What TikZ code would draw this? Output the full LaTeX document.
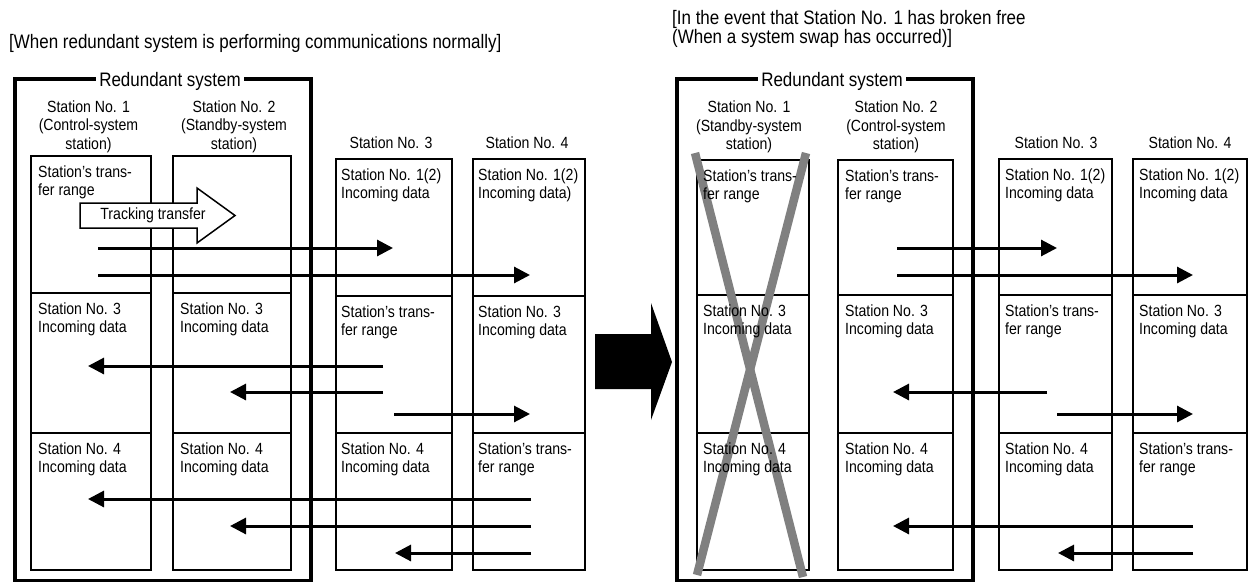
\documentclass[tikz,border=0pt]{standalone}
\usepackage{fontspec}
\setmainfont[FakeStretch=0.87]{Liberation Sans}
\usetikzlibrary{arrows.meta}
\newcommand\stlines[2]{\vtop{\baselineskip=18.5pt\hbox{#1}\hbox{#2}}}
\newcommand\caplines[2]{\vtop{\baselineskip=19pt\hbox{#1}\hbox{#2}}}
\newcommand\ctrline[1]{\hbox to 0pt{\hss#1\hss}}
\newcommand\hdthree[3]{\vtop{\baselineskip=18.5pt\ctrline{#1}\ctrline{#2}\ctrline{#3}}}
\newcommand\stcol[5]{%
  \draw[stbox] (#1,#3) rectangle (#2,570);
  \draw[stbox] (#1,#4) -- (#2,#4);
  \draw[stbox] (#1,#5) -- (#2,#5);}
\tikzset{
  stbox/.style={draw, line width=2pt},
  outerbox/.style={draw, line width=4pt},
  arr/.style={line width=3pt, -{Triangle[length=16pt,width=16pt]}},
  txt/.style={anchor=base west, inner sep=0pt, font=\fontsize{16.2}{18.5}\selectfont},
  captxt/.style={anchor=base west, inner sep=0pt, font=\fontsize{19.5}{19}\selectfont},
  hdr/.style={anchor=base, inner sep=0pt, font=\fontsize{16.2}{18.5}\selectfont},
  ttl/.style={anchor=base, fill=white, inner xsep=3pt, inner ysep=0pt, font=\fontsize{19.5}{22}\selectfont},
  cross/.style={draw=xgray, line width=8.5pt, line cap=butt},
}
\definecolor{xgray}{RGB}{128,128,128}
\begin{document}
\begin{tikzpicture}[x=1pt,y=-1pt]
\useasboundingbox (0,0) rectangle (1249,581);
% captions
\node[captxt] (capL) at (9,48.5) {[When redundant system is performing communications normally]};
\node[captxt] (capR) at (672,24) {\caplines{[In the event that Station No. 1 has broken free}{(When a system swap has occurred)]}};
% ---------- LEFT PANEL ----------
\draw[outerbox] (14.5,79) rectangle (310.5,580.5);
\node[ttl] (ttlL) at (170,86) {Redundant system};
\stcol{31}{151}{156}{293}{433}
\stcol{173}{291}{156}{293}{433}
\stcol{336}{452}{159}{296}{433}
\stcol{473}{585}{159}{296}{433}
\node[hdr] (hL1) at (88.5,112) {\hdthree{Station No. 1}{(Control-system}{station)}};
\node[hdr] (hL2) at (234,112) {\hdthree{Station No. 2}{(Standby-system}{station)}};
\node[hdr] (hL3) at (391,148) {Station No. 3};
\node[hdr] (hL4) at (527,148) {Station No. 4};
\node[txt] (L11) at (38,177) {\stlines{Station’s trans-}{fer range}};
\node[txt] (L13) at (341,180) {\stlines{Station No. 1(2)}{Incoming data}};
\node[txt] (L14) at (478,180) {\stlines{Station No. 1(2)}{Incoming data)}};
\node[txt] (L21) at (38,314) {\stlines{Station No. 3}{Incoming data}};
\node[txt] (L22) at (180,314) {\stlines{Station No. 3}{Incoming data}};
\node[txt] (L23) at (341,317) {\stlines{Station’s trans-}{fer range}};
\node[txt] (L24) at (478,317) {\stlines{Station No. 3}{Incoming data}};
\node[txt] (L31) at (38,454) {\stlines{Station No. 4}{Incoming data}};
\node[txt] (L32) at (180,454) {\stlines{Station No. 4}{Incoming data}};
\node[txt] (L33) at (341,454) {\stlines{Station No. 4}{Incoming data}};
\node[txt] (L34) at (478,454) {\stlines{Station’s trans-}{fer range}};
% tracking transfer arrow
\draw[fill=white, line width=1.5pt, line join=miter]
  (80,203) -- (197,203) -- (197,188) -- (235,215.5) -- (197,243) -- (197,228) -- (80,228) -- cycle;
\node[hdr, anchor=center] (trk) at (153,215.5) {Tracking transfer};
% left arrows
\coordinate (a1s) at (98,248);  \coordinate (a1e) at (393,248);
\coordinate (a2s) at (98,275);  \coordinate (a2e) at (530,275);
\coordinate (a3s) at (383,366); \coordinate (a3e) at (88,366);
\coordinate (a4s) at (383,392); \coordinate (a4e) at (230,392);
\coordinate (a5s) at (394,414); \coordinate (a5e) at (530,414);
\coordinate (a6s) at (531,499); \coordinate (a6e) at (88,499);
\coordinate (a7s) at (531,526); \coordinate (a7e) at (230,526);
\coordinate (a8s) at (531,553); \coordinate (a8e) at (395,553);
\foreach \i in {1,...,8} {\draw[arr] (a\i s) -- (a\i e);}
% big arrow
\draw[fill=black, draw=none] (595,334) -- (651,334) -- (651,303) -- (672,362) -- (651,420) -- (651,389) -- (595,389) -- cycle;
% ---------- RIGHT PANEL ----------
\draw[outerbox] (676.5,79) rectangle (973,580.5);
\node[ttl] (ttlR) at (832,86) {Redundant system};
\stcol{697}{809}{160}{295}{433}
\stcol{838}{953}{160}{295}{433}
\stcol{999}{1112}{159}{295}{433}
\stcol{1133}{1247}{159}{295}{433}
\node[hdr] (hR1) at (749,112.5) {\hdthree{Station No. 1}{(Standby-system}{station)}};
\node[hdr] (hR2) at (896,112.5) {\hdthree{Station No. 2}{(Control-system}{station)}};
\node[hdr] (hR3) at (1056,148) {Station No. 3};
\node[hdr] (hR4) at (1190,148) {Station No. 4};
% cross
\draw[cross] (695,153) -- (803,577);
\draw[cross] (806,153) -- (697,575);
\node[txt] (R11) at (703,181) {\stlines{Station’s trans-}{fer range}};
\node[txt] (R12) at (845,181) {\stlines{Station’s trans-}{fer range}};
\node[txt] (R13) at (1005,180) {\stlines{Station No. 1(2)}{Incoming data}};
\node[txt] (R14) at (1139,180) {\stlines{Station No. 1(2)}{Incoming data}};
\node[txt] (R21) at (703,316) {\stlines{Station No. 3}{Incoming data}};
\node[txt] (R22) at (845,316) {\stlines{Station No. 3}{Incoming data}};
\node[txt] (R23) at (1005,316) {\stlines{Station’s trans-}{fer range}};
\node[txt] (R24) at (1139,316) {\stlines{Station No. 3}{Incoming data}};
\node[txt] (R31) at (703,454) {\stlines{Station No. 4}{Incoming data}};
\node[txt] (R32) at (845,454) {\stlines{Station No. 4}{Incoming data}};
\node[txt] (R33) at (1005,454) {\stlines{Station No. 4}{Incoming data}};
\node[txt] (R34) at (1139,454) {\stlines{Station’s trans-}{fer range}};
% right arrows
\coordinate (b1s) at (897,248);  \coordinate (b1e) at (1057,248);
\coordinate (b2s) at (897,275);  \coordinate (b2e) at (1193,275);
\coordinate (b3s) at (1047,392); \coordinate (b3e) at (893,392);
\coordinate (b4s) at (1057,414); \coordinate (b4e) at (1193,414);
\coordinate (b5s) at (1193,526); \coordinate (b5e) at (893,526);
\coordinate (b6s) at (1193,553); \coordinate (b6e) at (1058,553);
\foreach \i in {1,...,6} {\draw[arr] (b\i s) -- (b\i e);}
\end{tikzpicture}
\end{document}
